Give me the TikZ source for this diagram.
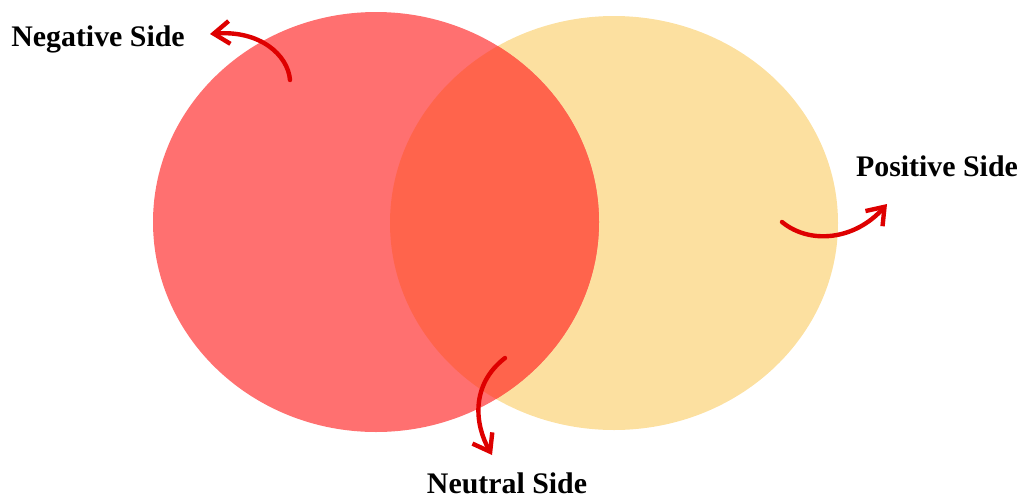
\documentclass[tikz,border=0pt]{standalone}
\usepackage{fontspec}
\setmainfont{Liberation Serif}
\usepackage{xcolor}
\definecolor{NegRed}{RGB}{255,112,112}
\definecolor{PosCream}{RGB}{252,224,160}
\definecolor{MixRed}{RGB}{255,100,76}
\definecolor{ArrowRed}{RGB}{222,0,0}
\usetikzlibrary{arrows.meta, positioning}
\tikzset{
  % Side labels
  sidelabel/.style={
    font=\fontsize{17}{20}\selectfont\bfseries,
    inner sep=0pt, anchor=base
  },
  % Curved pointer arrows
  curvearr/.style={
    -{Straight Barb[length=9pt,width=13pt]},
    line width=2.5pt, ArrowRed, line cap=round
  },
}

\begin{document}
\begin{tikzpicture}[x=0.02cm, y=-0.02cm]
  \useasboundingbox (0,0) rectangle (1021,501);

  %% Circles
  \fill[PosCream] (614,223) ellipse [x radius=224, y radius=207];
  \fill[NegRed]   (376,222) ellipse [x radius=223, y radius=210];
  \begin{scope}
    \clip (376,222) ellipse [x radius=223, y radius=210];
    \fill[MixRed] (614,223) ellipse [x radius=224, y radius=207];
  \end{scope}

  %% Labels
  \node[sidelabel] (neg) at (98,46)  {Negative Side};
  \node[sidelabel] (pos) at (937,176) {Positive Side};
  \node[sidelabel] (neu) at (507,493) {Neutral Side};

  %% Arrows (tail inside the circles, head near the label)
  \coordinate (negtail) at (290,80);
  \coordinate (neghead) at (210,34);
  \coordinate (postail) at (782,222);
  \coordinate (poshead) at (887,204);
  \coordinate (neutail) at (505,358);
  \coordinate (neuhead) at (492,455);

  \draw[curvearr] (negtail) .. controls (288,55) and (260,30) .. (neghead);
  \draw[curvearr] (postail) .. controls (810,245) and (855,240) .. (poshead);
  \draw[curvearr] (neutail) .. controls (470,385) and (475,425) .. (neuhead);
\end{tikzpicture}
\end{document}
